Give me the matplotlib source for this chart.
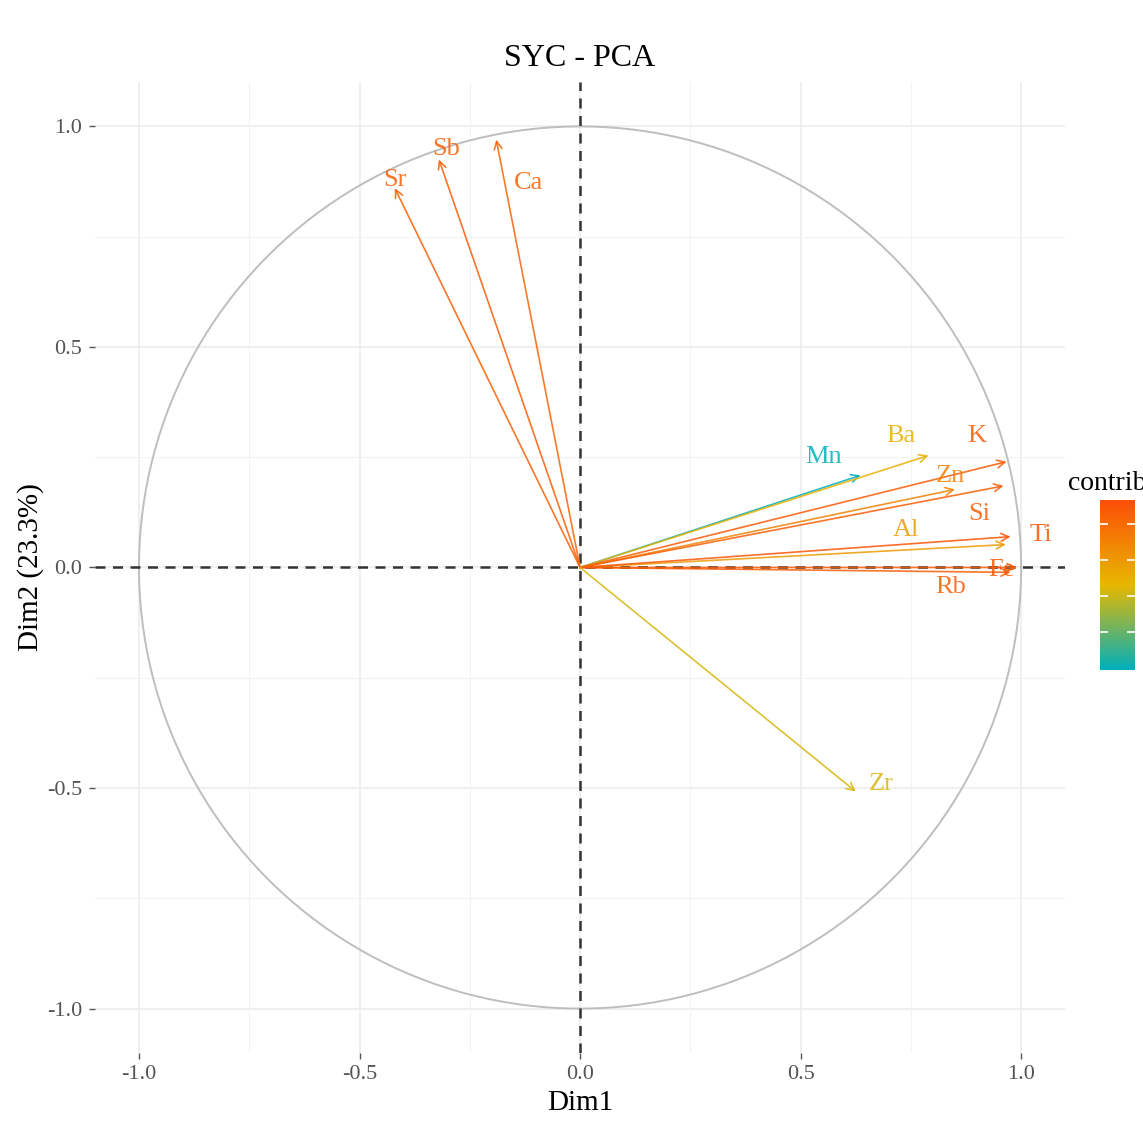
#Variables - PCA correlation circle

import numpy as np
import matplotlib.pyplot as plt
from matplotlib.colors import LinearSegmentedColormap, Normalize

plt.rcParams['font.family'] = ['Liberation Serif', 'DejaVu Serif']

#Variable coordinates on Dim1 / Dim2 and contributions
names = ["Sr", "Sb", "Ca", "Mn", "Ba", "K", "Zn", "Si", "Al", "Ti", "Fe", "Rb", "Zr"]
dim1 = [-0.42, -0.32, -0.19, 0.636, 0.79, 0.967, 0.85, 0.96, 0.965, 0.976, 0.99, 0.976, 0.625]
dim2 = [0.86, 0.925, 0.97, 0.209, 0.254, 0.24, 0.177, 0.185, 0.052, 0.07, 0.0, -0.011, -0.508]
contrib = [9.4, 9.5, 9.3, 2.9, 6.7, 9.6, 8.2, 9.5, 7.4, 9.7, 9.6, 9.5, 6.2]

#Label offsets in pixels (ggrepel-like placement)
offsets = {"Sr": (0, 8), "Sb": (7, 10), "Ca": (32, -43), "Mn": (-37, 18),
           "Ba": (-28, 19), "K": (-30, 26), "Zn": (-5, 13), "Si": (-24, -28),
           "Al": (-100, 15), "Ti": (30, 2), "Fe": (-15, -3), "Rb": (-60, -15),
           "Zr": (25, 8)}

cmap = LinearSegmentedColormap.from_list("contrib", ["#00AFBB", "#E7B800", "#FC4E07"])
norm = Normalize(vmin=2.9, vmax=10.0)

fig = plt.figure(figsize=(11.43, 11.43), dpi=100)
ax = fig.add_axes([0.083, 0.079, 0.849, 0.849])
ax.set_xlim(-1.1, 1.1)
ax.set_ylim(-1.1, 1.1)

#grid like theme_minimal
for v in [-1, -0.5, 0, 0.5, 1]:
    ax.axvline(v, color="#EBEBEB", lw=1.1, zorder=0)
    ax.axhline(v, color="#EBEBEB", lw=1.1, zorder=0)
for v in [-0.75, -0.25, 0.25, 0.75]:
    ax.axvline(v, color="#F3F3F3", lw=0.8, zorder=0)
    ax.axhline(v, color="#F3F3F3", lw=0.8, zorder=0)
for s in ax.spines.values():
    s.set_visible(False)

th = np.linspace(0, 2*np.pi, 400)
ax.plot(np.cos(th), np.sin(th), color="#BEBEBE", lw=1.4, zorder=1)
ax.axhline(0, color="#333333", ls=(0, (4, 3)), lw=1.8, zorder=2)
ax.axvline(0, color="#333333", ls=(0, (4, 3)), lw=1.8, zorder=2)

for n, x, y, c in zip(names, dim1, dim2, contrib):
    col = cmap(norm(c))
    ax.annotate("", xy=(x, y), xytext=(0, 0),
                arrowprops=dict(arrowstyle="->", color=col, lw=1.2, alpha=0.85,
                                mutation_scale=14, shrinkA=0, shrinkB=0),
                zorder=3)
    dx, dy = offsets[n]
    ax.annotate(n, xy=(x, y), xytext=(dx, dy), textcoords="offset pixels",
                color=col, alpha=0.85, fontsize=19, ha="center", va="center", zorder=4)

ax.set_xticks([-1, -0.5, 0, 0.5, 1])
ax.set_yticks([-1, -0.5, 0, 0.5, 1])
ax.set_xticklabels(["-1.0", "-0.5", "0.0", "0.5", "1.0"])
ax.set_yticklabels(["-1.0", "-0.5", "0.0", "0.5", "1.0"])
ax.tick_params(labelsize=16, colors="#555555", length=4, width=1, pad=5)
ax.set_xlabel("Dim1", fontsize=21, labelpad=4)
ax.set_ylabel("Dim2 (23.3%)", fontsize=21, labelpad=2)
ax.set_title("SYC - PCA", fontsize=23, pad=12)

#colorbar legend, cut off at the right edge like the original
cax = fig.add_axes([1100/1143, (1143-670)/1143, 35/1143, 170/1143])
cb = fig.colorbar(plt.cm.ScalarMappable(norm=norm, cmap=cmap), cax=cax)
cb.outline.set_visible(False)
cb.set_ticks([4.5, 6, 7.5, 9])
cax.tick_params(direction="in", color="white", length=6, width=1.2,
                left=True, right=True, labelright=False, labelleft=False)
fig.text(1068/1143, 1-483/1143, "contrib", fontsize=20, va="center", ha="left")

plt.savefig("out.png", dpi=100)
